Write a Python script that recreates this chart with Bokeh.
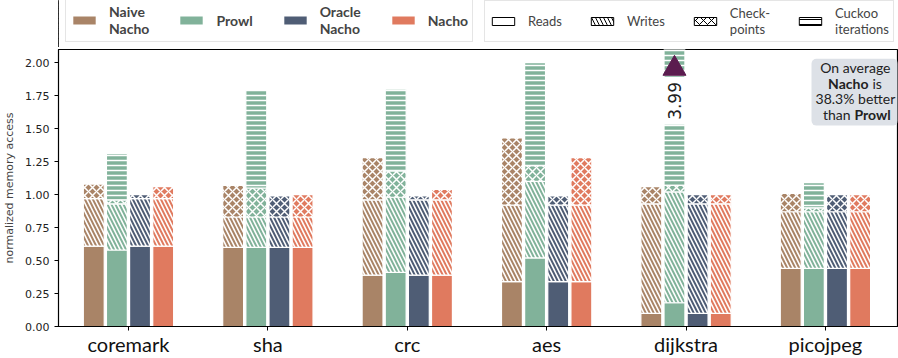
import numpy as np
from bokeh.plotting import figure
from bokeh.layouts import column
from bokeh.models import (Range1d, FixedTicker, Legend, LegendItem, Label,
                          BoxAnnotation, NumeralTickFormatter)
from bokeh.embed import file_html
from bokeh.resources import INLINE

# ---------------------------------------------------------------- data
benchmarks = ["coremark", "sha", "crc", "aes", "dijkstra", "picojpeg"]
systems = ["Naive\nNacho", "Prowl", "Oracle\nNacho", "Nacho"]
components = ["Reads", "Writes", "Check-\npoints", "Cuckoo\niterations"]

# normalized memory accesses, split by source (one value per benchmark)
naive_reads = [0.61, 0.60, 0.39, 0.34, 0.10, 0.44]
naive_writes = [0.36, 0.23, 0.57, 0.58, 0.83, 0.43]
naive_ckpt = [0.11, 0.24, 0.32, 0.51, 0.13, 0.14]
naive_cuckoo = [0.00, 0.00, 0.00, 0.00, 0.00, 0.00]

prowl_reads = [0.58, 0.60, 0.41, 0.52, 0.18, 0.44]
prowl_writes = [0.35, 0.23, 0.57, 0.58, 0.84, 0.43]
prowl_ckpt = [0.03, 0.22, 0.20, 0.12, 0.05, 0.03]
prowl_cuckoo = [0.35, 0.74, 0.62, 0.78, 2.92, 0.19]

oracle_reads = [0.61, 0.60, 0.39, 0.34, 0.10, 0.44]
oracle_writes = [0.36, 0.23, 0.57, 0.58, 0.83, 0.43]
oracle_ckpt = [0.03, 0.16, 0.03, 0.07, 0.07, 0.13]
oracle_cuckoo = [0.00, 0.00, 0.00, 0.00, 0.00, 0.00]

nacho_reads = [0.61, 0.60, 0.39, 0.34, 0.10, 0.44]
nacho_writes = [0.36, 0.23, 0.57, 0.58, 0.83, 0.43]
nacho_ckpt = [0.09, 0.17, 0.08, 0.36, 0.07, 0.13]
nacho_cuckoo = [0.00, 0.00, 0.00, 0.00, 0.00, 0.00]

y_ticks = [0.0, 0.25, 0.5, 0.75, 1.0, 1.25, 1.5, 1.75, 2.0]
y_max = 2.1

# ---------------------------------------------------------------- style
system_colors = ["#a98467", "#81b29a", "#4f5d75", "#e07a5f"]
hatch_patterns = [" ", "\\", "x", "-"]
hatch_scales = [6, 8, 8, 5]
hatch_weights = [1, 1.6, 1.5, 1.5]
pitch = 0.166
bar_width = 0.15

series = [
    [naive_reads, naive_writes, naive_ckpt, naive_cuckoo],
    [prowl_reads, prowl_writes, prowl_ckpt, prowl_cuckoo],
    [oracle_reads, oracle_writes, oracle_ckpt, oracle_cuckoo],
    [nacho_reads, nacho_writes, nacho_ckpt, nacho_cuckoo],
]

# ---------------------------------------------------------------- main plot
p = figure(frame_width=839, frame_height=277, output_backend="svg",
           toolbar_location=None,
           x_range=Range1d(-0.502, 5.517), y_range=Range1d(0, y_max),
           min_border_left=57, min_border_right=2, min_border_top=2,
           min_border_bottom=30)
p.xgrid.visible = False
p.ygrid.visible = False
p.outline_line_color = "black"
p.outline_line_width = 1.2

group_x = np.arange(len(benchmarks), dtype=float)
for s, comps in enumerate(series):
    xs = group_x + (s - 1.5) * pitch
    bottom = np.zeros(len(benchmarks))
    for c, vals in enumerate(comps):
        vals = np.asarray(vals, dtype=float)
        top = bottom + vals
        keep = vals > 0
        p.vbar(x=xs[keep], bottom=bottom[keep], top=top[keep], width=bar_width,
               fill_color=system_colors[s], line_color="white", line_width=1.2,
               hatch_pattern=hatch_patterns[c], hatch_color="white",
               hatch_scale=hatch_scales[c], hatch_weight=hatch_weights[c])
        bottom = top

# overflow marker for the clipped Prowl bar on dijkstra
over_idx = benchmarks.index("dijkstra")
over_total = sum(v[over_idx] for v in series[1])
over_x = over_idx - 0.5 * pitch
p.scatter(x=[over_x], y=[1.955], marker="triangle", size=23,
          fill_color="#5b1c4f", line_color="#5b1c4f")
p.add_layout(Label(x=over_x, y=1.71, text=f"{over_total:.2f}", angle=90,
                   angle_units="deg", text_align="center", text_baseline="middle",
                   text_font="DejaVu Sans", text_font_size="17px",
                   text_color="#222222", background_fill_color="white",
                   padding=5))

# ---------------------------------------------------------------- axes
p.xaxis.ticker = FixedTicker(ticks=list(range(len(benchmarks))))
p.xaxis.major_label_overrides = {i: b for i, b in enumerate(benchmarks)}
p.xaxis.major_label_text_font = "Lato"
p.xaxis.major_label_text_font_size = "20px"
p.xaxis.major_label_text_color = "#111111"
p.xaxis.major_label_standoff = 1
p.xaxis.minor_tick_line_color = None
p.xaxis.major_tick_in = 0
p.xaxis.major_tick_out = 4

p.yaxis.ticker = FixedTicker(ticks=y_ticks)
p.yaxis.formatter = NumeralTickFormatter(format="0.00")
p.yaxis.major_label_text_font = "DejaVu Sans"
p.yaxis.major_label_text_font_size = "11px"
p.yaxis.major_label_text_color = "#222222"
p.yaxis.minor_tick_line_color = None
p.yaxis.major_tick_in = 0
p.yaxis.major_tick_out = 4
p.yaxis.axis_label = "normalized memory access"
p.yaxis.axis_label_text_font = "DejaVu Sans"
p.yaxis.axis_label_text_font_size = "11px"
p.yaxis.axis_label_text_font_style = "normal"
p.yaxis.axis_label_standoff = 6
for ax in (p.xaxis, p.yaxis):
    ax.axis_line_color = "black"
    ax.major_tick_line_color = "black"

# ---------------------------------------------------------------- summary box
p.add_layout(BoxAnnotation(left=4.90, right=5.52, bottom=1.523, top=2.03,
                           fill_color="#dde1e7", fill_alpha=1, line_color=None,
                           border_radius=5))
box_cx = 5.215
txt = dict(text_font="Lato", text_font_size="14px", text_color="#222222",
           text_baseline="middle")
p.add_layout(Label(x=box_cx, y=1.962, text="On average", text_align="center", **txt))
p.add_layout(Label(x=5.323, y=1.841, text="Nacho", text_align="right",
                   text_font_style="bold", x_offset=-2, **txt))
p.add_layout(Label(x=5.323, y=1.841, text="is", text_align="left", x_offset=2, **txt))
p.add_layout(Label(x=box_cx, y=1.727, text="38.3% better", text_align="center", **txt))
p.add_layout(Label(x=5.194, y=1.606, text="than", text_align="right", x_offset=-2, **txt))
p.add_layout(Label(x=5.194, y=1.606, text="Prowl", text_align="left",
                   text_font_style="bold", x_offset=2, **txt))

# ---------------------------------------------------------------- legend strip
lg = figure(width=898, height=47, output_backend="svg", toolbar_location=None,
            x_range=Range1d(0, 1), y_range=Range1d(0, 1),
            x_axis_location=None, y_axis_location=None,
            min_border=0, outline_line_color=None)
lg.xgrid.visible = False
lg.ygrid.visible = False

# swatch renderers sit outside the visible range; only their legend glyphs show
system_swatches = [
    lg.vbar(x=[-5], top=[1], width=0.1, fill_color=col, line_color=None)
    for col in system_colors
]
component_swatches = [
    lg.vbar(x=[-5], top=[1], width=0.1, fill_color="white", line_color="black",
            line_width=1, hatch_pattern=hatch_patterns[c], hatch_color="black",
            hatch_scale=hatch_scales[c], hatch_weight=1)
    for c in range(len(components))
]


def make_legend(labels, renderers, loc, bold, spacing, size):
    return Legend(items=[LegendItem(label=l, renderers=[r]) for l, r in zip(labels, renderers)],
                  orientation="horizontal", location=loc,
                  label_text_font="Lato", label_text_font_size=size,
                  label_text_font_style="bold" if bold else "normal",
                  label_text_line_height=0.85,
                  glyph_width=28, glyph_height=10, label_standoff=11,
                  spacing=spacing, padding=4, margin=0,
                  border_line_color="#cccccc", border_line_width=1,
                  background_fill_color="white", background_fill_alpha=1)


# legend frame is aligned with the main plot frame (left edge at 57px)
lg.add_layout(make_legend(systems, system_swatches, (7, 5), True, 28, "14px"))
lg.add_layout(make_legend(components, component_swatches, (426, 5), False, 26, "13px"))

layout = column(lg, p, spacing=0)
open("out.html", "w").write(file_html(layout, INLINE))
